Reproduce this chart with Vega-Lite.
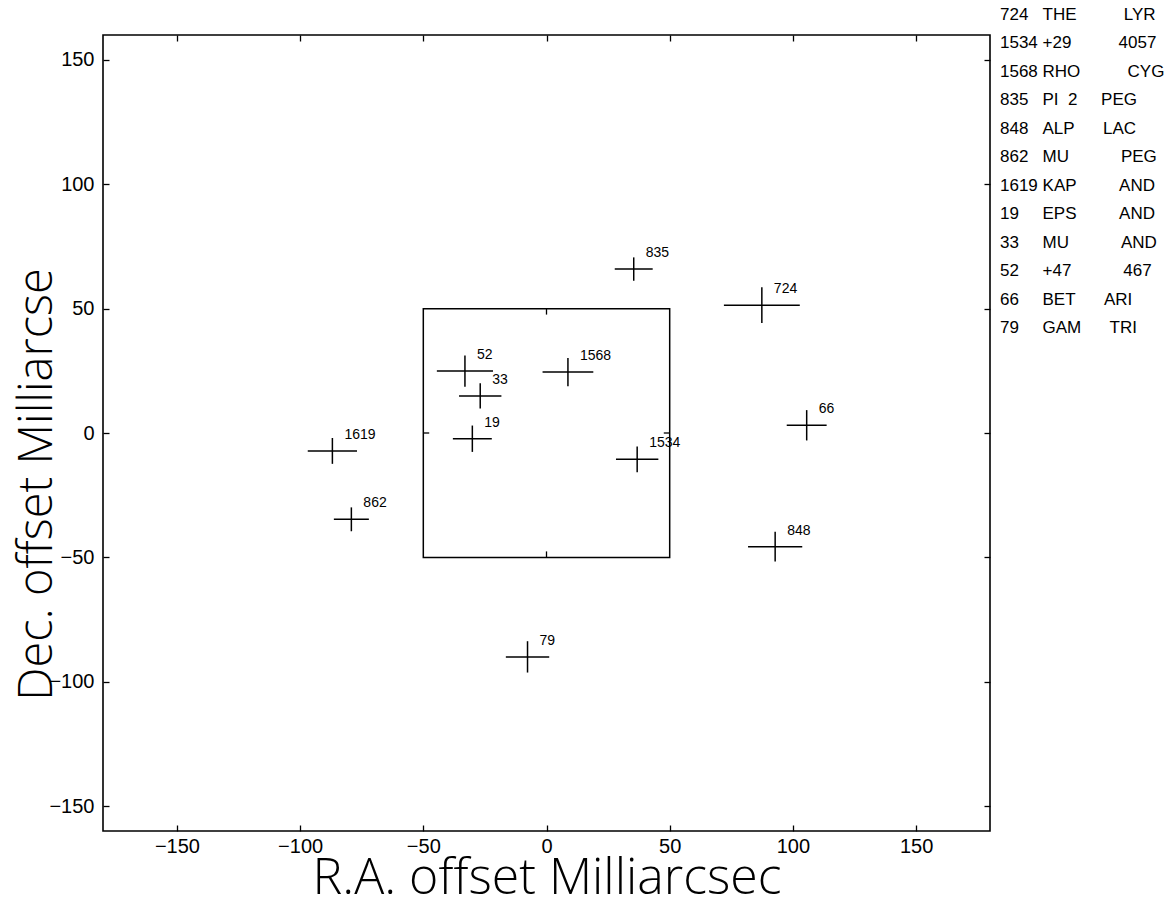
{
  "$schema": "https://vega.github.io/schema/vega-lite/v6.json",
  "autosize": "none",
  "width": 887,
  "height": 796,
  "padding": {"left": 103, "top": 35, "right": 182, "bottom": 78},
  "background": "white",
  "config": {
    "view": {"stroke": "black", "strokeWidth": 1.6},
    "axis": {
      "grid": false,
      "domain": false,
      "tickColor": "black",
      "tickWidth": 1.3,
      "tickSize": -6,
      "labelFont": "Liberation Sans",
      "labelFontSize": 20,
      "labelColor": "black",
      "titleFont": "Open Sans",
      "titleFontWeight": 300,
      "titleColor": "black"
    }
  },
  "datasets": {
    "stars": [
      {"id": "724", "desc": "724\u00a0\u00a0\u00a0THE\u00a0\u00a0\u00a0\u00a0\u00a0\u00a0\u00a0\u00a0\u00a0\u00a0LYR", "ra": 87.4, "dec": 51.4, "era": 15.4, "edec": 7.2},
      {"id": "1534", "desc": "1534\u00a0+29\u00a0\u00a0\u00a0\u00a0\u00a0\u00a0\u00a0\u00a0\u00a0\u00a04057", "ra": 36.8, "dec": -10.6, "era": 8.6, "edec": 5.2},
      {"id": "1568", "desc": "1568\u00a0RHO\u00a0\u00a0\u00a0\u00a0\u00a0\u00a0\u00a0\u00a0\u00a0\u00a0CYG", "ra": 8.7, "dec": 24.5, "era": 10.3, "edec": 5.7},
      {"id": "835", "desc": "835\u00a0\u00a0\u00a0PI\u00a0\u00a02\u00a0\u00a0\u00a0\u00a0\u00a0PEG", "ra": 35.4, "dec": 65.9, "era": 7.7, "edec": 4.7},
      {"id": "848", "desc": "848\u00a0\u00a0\u00a0ALP\u00a0\u00a0\u00a0\u00a0\u00a0\u00a0LAC", "ra": 92.8, "dec": -45.7, "era": 11.0, "edec": 6.0},
      {"id": "862", "desc": "862\u00a0\u00a0\u00a0MU\u00a0\u00a0\u00a0\u00a0\u00a0\u00a0\u00a0\u00a0\u00a0\u00a0\u00a0PEG", "ra": -79.2, "dec": -34.7, "era": 7.1, "edec": 4.8},
      {"id": "1619", "desc": "1619\u00a0KAP\u00a0\u00a0\u00a0\u00a0\u00a0\u00a0\u00a0\u00a0\u00a0AND", "ra": -86.9, "dec": -7.2, "era": 10.0, "edec": 5.2},
      {"id": "19", "desc": "19\u00a0\u00a0\u00a0\u00a0\u00a0EPS\u00a0\u00a0\u00a0\u00a0\u00a0\u00a0\u00a0\u00a0\u00a0AND", "ra": -30.1, "dec": -2.3, "era": 7.9, "edec": 5.3},
      {"id": "33", "desc": "33\u00a0\u00a0\u00a0\u00a0\u00a0MU\u00a0\u00a0\u00a0\u00a0\u00a0\u00a0\u00a0\u00a0\u00a0\u00a0\u00a0AND", "ra": -26.9, "dec": 14.9, "era": 8.6, "edec": 5.1},
      {"id": "52", "desc": "52\u00a0\u00a0\u00a0\u00a0\u00a0+47\u00a0\u00a0\u00a0\u00a0\u00a0\u00a0\u00a0\u00a0\u00a0\u00a0\u00a0467", "ra": -33.1, "dec": 24.9, "era": 11.4, "edec": 6.3},
      {"id": "66", "desc": "66\u00a0\u00a0\u00a0\u00a0\u00a0BET\u00a0\u00a0\u00a0\u00a0\u00a0\u00a0ARI", "ra": 105.6, "dec": 3.1, "era": 8.1, "edec": 6.1},
      {"id": "79", "desc": "79\u00a0\u00a0\u00a0\u00a0\u00a0GAM\u00a0\u00a0\u00a0\u00a0\u00a0\u00a0TRI", "ra": -7.7, "dec": -90.0, "era": 8.8, "edec": 6.3}
    ],
    "box": [{"bx": -50, "bx2": 50, "by": -50, "by2": 50}],
    "boxticks": [
      {"tx": 0, "tx2": 0, "ty": 50, "ty2": 47.6},
      {"tx": 0, "tx2": 0, "ty": -50, "ty2": -47.6},
      {"tx": -50, "tx2": -47.6, "ty": 0, "ty2": 0},
      {"tx": 50, "tx2": 47.6, "ty": 0, "ty2": 0}
    ]
  },
  "resolve": {"axis": {"x": "independent", "y": "independent"}},
  "layer": [
    {
      "data": {"name": "stars"},
      "mark": {"type": "errorbar", "color": "black", "thickness": 1.5},
      "encoding": {
        "x": {
          "field": "ra", "type": "quantitative",
          "scale": {"domain": [-180, 180], "nice": false, "zero": false},
          "axis": {"orient": "bottom", "values": [-150, -100, -50, 0, 50, 100, 150], "title": "R.A. offset Milliarcsec", "titleFontSize": 50, "labelPadding": 11, "titleY": 62, "titleBaseline": "alphabetic"}
        },
        "xError": {"field": "era"},
        "y": {
          "field": "dec", "type": "quantitative",
          "scale": {"domain": [-160, 160], "nice": false, "zero": false},
          "axis": {"orient": "left", "values": [-150, -100, -50, 0, 50, 100, 150], "title": "Dec. offset Milliarcse", "titleFontSize": 47, "labelPadding": 15, "titleX": -52, "titleY": 449, "titleAlign": "center", "titleBaseline": "alphabetic", "titleAngle": -90}
        }
      }
    },
    {
      "data": {"name": "stars"},
      "mark": {"type": "errorbar", "color": "black", "thickness": 1.5},
      "encoding": {
        "x": {"field": "ra", "type": "quantitative", "axis": null},
        "y": {"field": "dec", "type": "quantitative", "axis": null},
        "yError": {"field": "edec"}
      }
    },
    {
      "data": {"name": "box"},
      "mark": {"type": "rect", "fill": null, "fillOpacity": 0, "stroke": "black", "strokeWidth": 1.5},
      "encoding": {
        "x": {"field": "bx", "type": "quantitative", "axis": {"orient": "top", "values": [-150, -100, -50, 0, 50, 100, 150], "labels": false, "title": null}},
        "x2": {"field": "bx2"},
        "y": {"field": "by", "type": "quantitative", "axis": {"orient": "right", "values": [-150, -100, -50, 0, 50, 100, 150], "labels": false, "title": null}},
        "y2": {"field": "by2"}
      }
    },
    {
      "data": {"name": "boxticks"},
      "mark": {"type": "rule", "color": "black", "strokeWidth": 1.3},
      "encoding": {
        "x": {"field": "tx", "type": "quantitative", "axis": null},
        "x2": {"field": "tx2"},
        "y": {"field": "ty", "type": "quantitative", "axis": null},
        "y2": {"field": "ty2"}
      }
    },
    {
      "data": {"name": "stars"},
      "mark": {"type": "text", "align": "left", "baseline": "alphabetic", "dx": 12, "dy": -12, "font": "Liberation Sans", "fontSize": 14},
      "encoding": {
        "x": {"field": "ra", "type": "quantitative", "axis": null},
        "y": {"field": "dec", "type": "quantitative", "axis": null},
        "text": {"field": "id"},
        "color": {
          "field": "desc", "type": "nominal", "sort": null,
          "scale": {"range": ["black"]},
          "legend": {
            "orient": "none", "legendX": 880, "legendY": -29, "title": null,
            "symbolOpacity": 0, "symbolSize": 0, "symbolStrokeWidth": 0,
            "labelOffset": 0, "labelFont": "Liberation Sans", "labelFontSize": 17,
            "labelColor": "black", "labelLimit": 0, "rowPadding": 10.5, "padding": 0
          }
        }
      }
    }
  ]
}
